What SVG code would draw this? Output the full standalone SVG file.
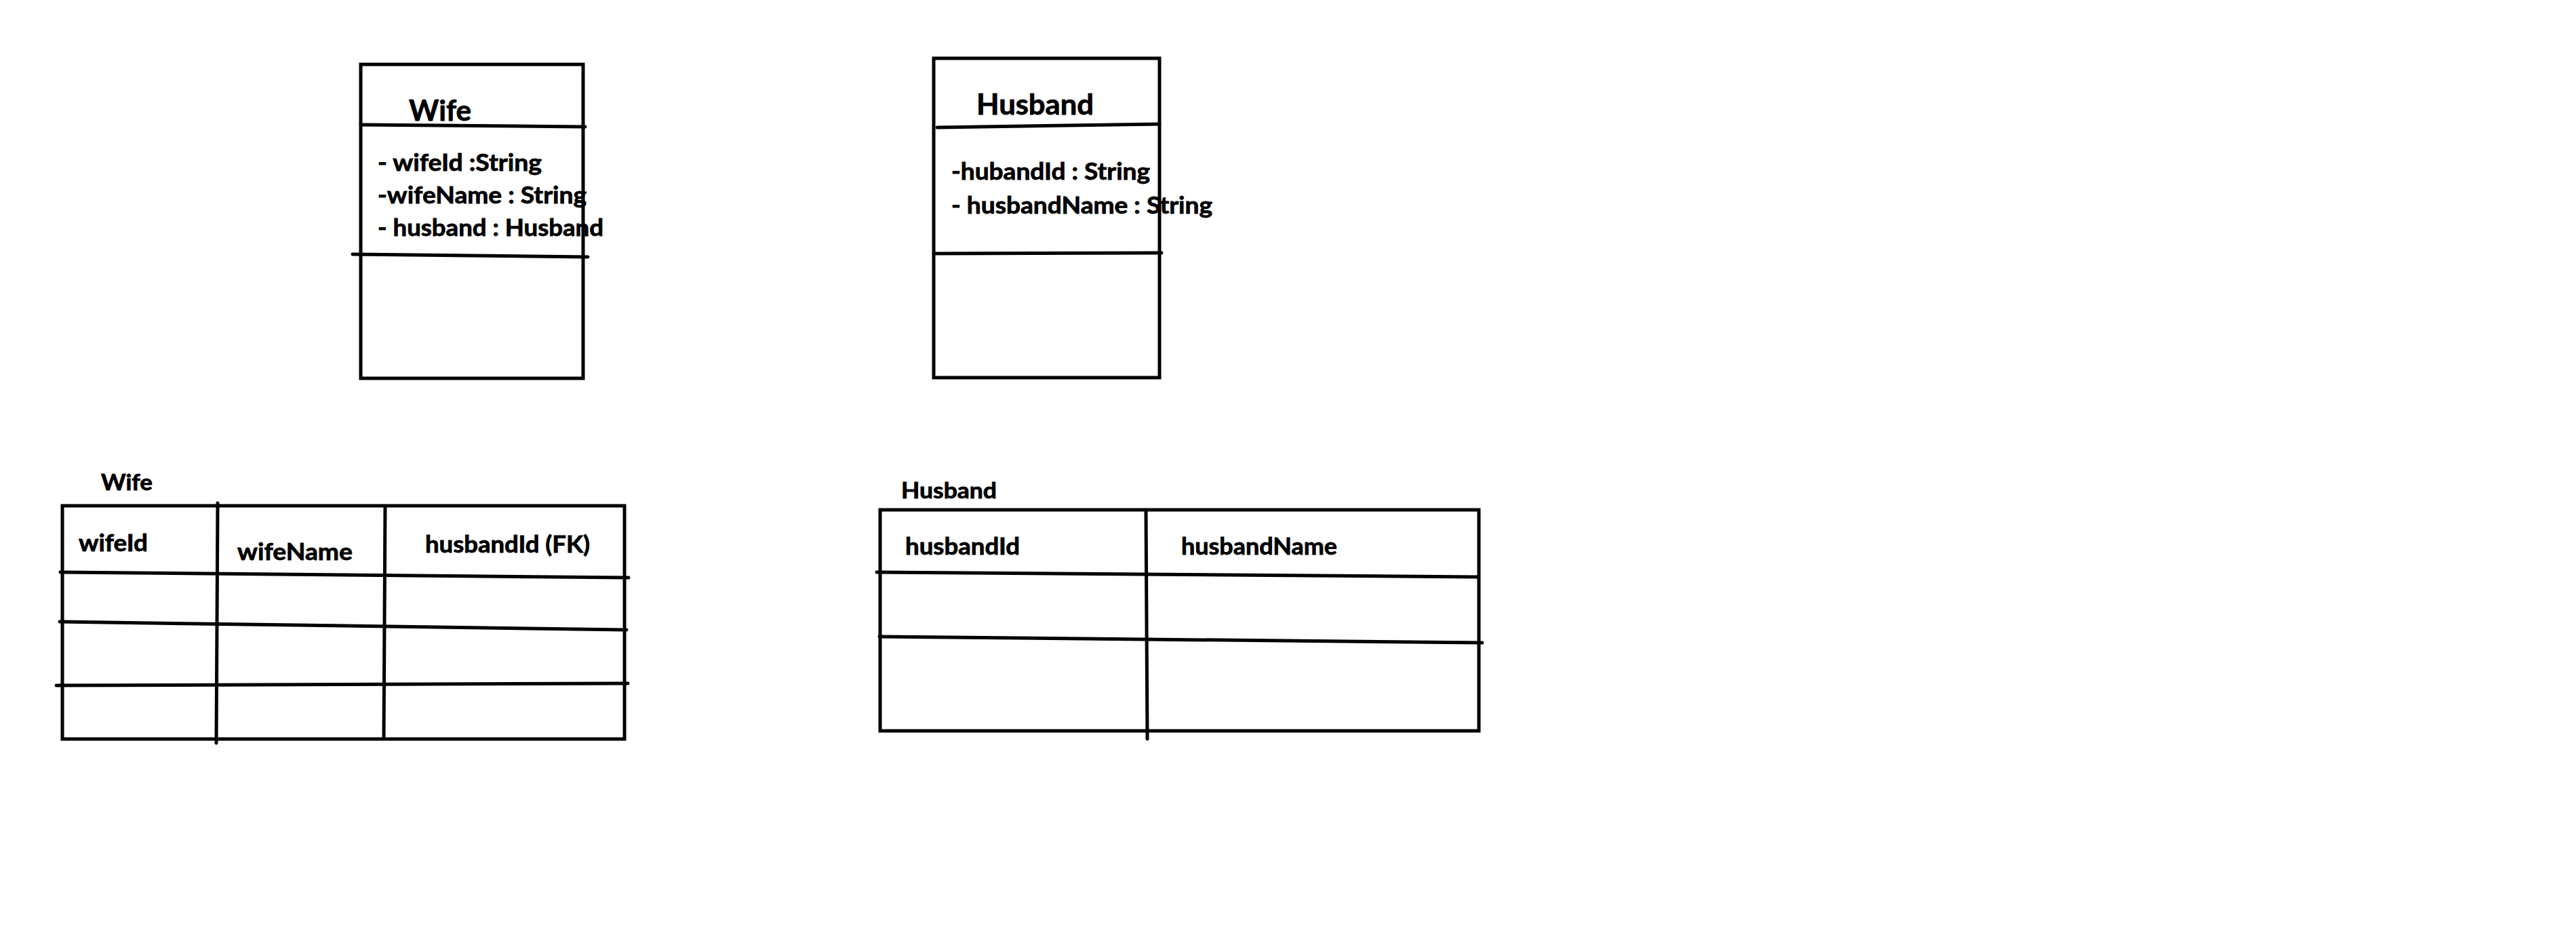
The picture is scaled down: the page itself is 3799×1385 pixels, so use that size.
<svg xmlns="http://www.w3.org/2000/svg" width="3799" height="1385" viewBox="0 0 3799 1385">
  <style>
    .box { fill: none; stroke: #000; stroke-width: 5; }
    .ln { fill: none; stroke: #000; stroke-width: 5; stroke-linecap: round; }
    text { font-family: Lato, "Noto Sans", "Liberation Sans", sans-serif; font-weight: bold; fill: #000; stroke: #000; stroke-width: 0.8; }
    .title { font-size: 42px; }
    .attr { font-size: 35px; }
    .th { font-size: 35px; }
    .tname { font-size: 32px; }
  </style>
  <rect x="0" y="0" width="3799" height="1385" fill="#fff"/>

  <g id="wife-class">
    <rect class="box" x="532" y="95" width="328" height="463"/>
    <line class="ln" x1="532" y1="184" x2="863" y2="187"/>
    <line class="ln" x1="520" y1="375" x2="867" y2="379"/>
    <text class="title" x="603" y="178" textLength="92" lengthAdjust="spacingAndGlyphs">Wife</text>
    <text class="attr" x="557" y="252" textLength="242" lengthAdjust="spacingAndGlyphs">- wifeId :String</text>
    <text class="attr" x="557" y="300" textLength="308" lengthAdjust="spacingAndGlyphs">-wifeName : String</text>
    <text class="attr" x="557" y="348" textLength="333" lengthAdjust="spacingAndGlyphs">- husband : Husband</text>
  </g>

  <g id="husband-class">
    <rect class="box" x="1377" y="86" width="333" height="471"/>
    <line class="ln" x1="1382" y1="188" x2="1710" y2="183"/>
    <line class="ln" x1="1377" y1="374" x2="1713" y2="373"/>
    <text class="title" x="1440" y="169" textLength="173" lengthAdjust="spacingAndGlyphs">Husband</text>
    <text class="attr" x="1403" y="265" textLength="293" lengthAdjust="spacingAndGlyphs">-hubandId : String</text>
    <text class="attr" x="1403" y="315" textLength="385" lengthAdjust="spacingAndGlyphs">- husbandName : String</text>
  </g>

  <g id="wife-table">
    <text class="tname" x="149" y="723" textLength="76" lengthAdjust="spacingAndGlyphs">Wife</text>
    <rect class="box" x="92" y="746" width="829" height="344"/>
    <line class="ln" x1="321" y1="742" x2="319" y2="1096"/>
    <line class="ln" x1="568" y1="747" x2="566" y2="1088"/>
    <line class="ln" x1="89" y1="844" x2="927" y2="852"/>
    <line class="ln" x1="88" y1="917" x2="924" y2="929"/>
    <line class="ln" x1="83" y1="1011" x2="926" y2="1008"/>
    <text class="th" x="116" y="813" textLength="102" lengthAdjust="spacingAndGlyphs">wifeId</text>
    <text class="th" x="350" y="826" textLength="170" lengthAdjust="spacingAndGlyphs">wifeName</text>
    <text class="th" x="627" y="815" textLength="243" lengthAdjust="spacingAndGlyphs">husbandId (FK)</text>
  </g>

  <g id="husband-table">
    <text class="tname" x="1329" y="735" textLength="141" lengthAdjust="spacingAndGlyphs">Husband</text>
    <rect class="box" x="1298" y="752" width="883" height="326"/>
    <line class="ln" x1="1690" y1="752" x2="1692" y2="1090"/>
    <line class="ln" x1="1293" y1="844" x2="2180" y2="851"/>
    <line class="ln" x1="1297" y1="939" x2="2186" y2="948"/>
    <text class="th" x="1335" y="818" textLength="169" lengthAdjust="spacingAndGlyphs">husbandId</text>
    <text class="th" x="1742" y="818" textLength="230" lengthAdjust="spacingAndGlyphs">husbandName</text>
  </g>

  <g id="connectors"></g>
</svg>
